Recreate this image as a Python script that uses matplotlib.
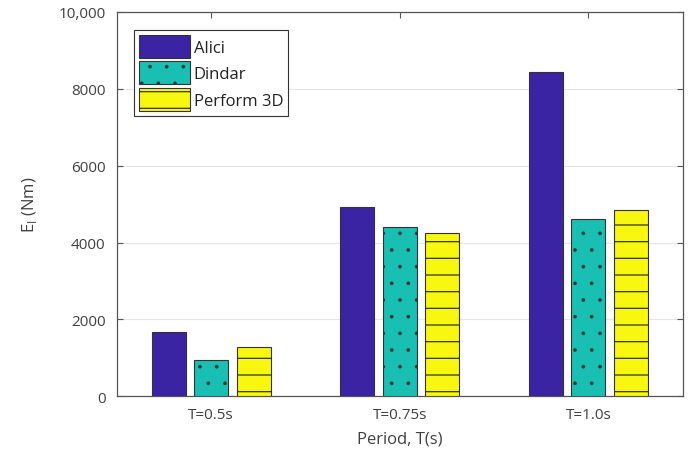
import matplotlib
matplotlib.use('Agg')
import matplotlib.pyplot as plt
import numpy as np

periods = ['T=0.5s', 'T=0.75s', 'T=1.0s']
alici = [1670, 4935, 8430]
dindar = [940, 4410, 4620]
perform = [1280, 4255, 4855]

series = ['Alici', 'Dindar', 'Perform 3D']
colors = ['#3B24A3', '#19BFB2', '#F7F70F']
hatches = ['', '.', '-']

plt.rcParams['font.family'] = ['Open Sans', 'DejaVu Sans']
plt.rcParams['hatch.linewidth'] = 0.9
plt.rcParams['hatch.color'] = '#1a1a1a'
text_col = '#404040'

fig = plt.figure(figsize=(6.91, 4.64), dpi=100)
ax = fig.add_axes([0.169, 0.144, 0.819, 0.828])

x = np.arange(1, len(periods) + 1)
width = 0.18
step = 0.225
for i, (vals, name) in enumerate(zip([alici, dindar, perform], series)):
    bars = ax.bar(x + (i - 1) * step, vals, width, color=colors[i], hatch=hatches[i],
                  edgecolor='#333333', linewidth=0.8, label=name, zorder=3)
    if hatches[i] == '.':
        for b in bars:
            try:
                b.set_hatch_linewidth(0.2)
            except AttributeError:
                pass

ax.set_xlim(0.5, 3.5)
ax.set_ylim(0, 10000)
ax.set_xticks(x)
ax.set_xticklabels(periods)
yt = [0, 2000, 4000, 6000, 8000, 10000]
ax.set_yticks(yt)
ax.set_yticklabels(['0', '2000', '4000', '6000', '8000', '10,000'])
ax.grid(axis='y', color='#e6e6e6', linewidth=0.8, zorder=0)
ax.tick_params(direction='in', top=True, right=True, length=4, color='#555555',
               labelsize=11, labelcolor=text_col, pad=8)
for s in ax.spines.values():
    s.set_color('#555555')
    s.set_linewidth(0.9)

ax.set_xlabel('Period, T(s)', fontsize=12, color=text_col, labelpad=6)
ax.set_ylabel(r'E$_\mathregular{I}$ (Nm)', fontsize=12, color=text_col, labelpad=14)

leg = ax.legend(loc='upper left', bbox_to_anchor=(0.03, 0.953), fontsize=12,
                fancybox=False, edgecolor='#333333', framealpha=1,
                handlelength=3.05, handleheight=1.75, handletextpad=0.25,
                labelspacing=0.2, borderpad=0.3, borderaxespad=0.0)
leg.get_frame().set_linewidth(0.8)
for t in leg.get_texts():
    t.set_color('#222222')
for h in leg.legend_handles:
    if h.get_hatch() == '.':
        try:
            h.set_hatch_linewidth(0.2)
        except AttributeError:
            pass

fig.savefig('out.png', dpi=100)
